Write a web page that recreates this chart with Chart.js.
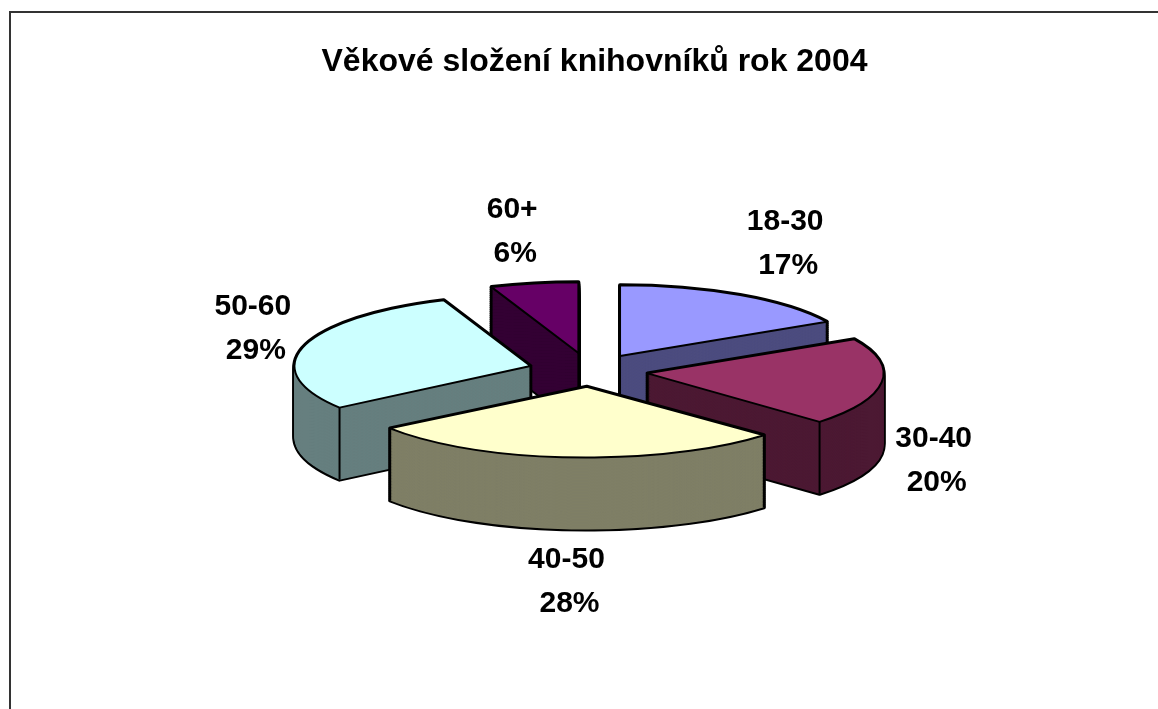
<!DOCTYPE html>
<html lang="cs">
<head>
<meta charset="utf-8">
<title>Věkové složení knihovníků rok 2004</title>
<script src="https://cdn.jsdelivr.net/npm/chart.js@4/dist/chart.umd.min.js"></script>
<style>
html,body{margin:0;padding:0;background:#fff;overflow:hidden}
#wrap{position:relative;width:1158px;height:709px}
</style>
</head>
<body>
<div id="wrap"><canvas id="c" width="1158" height="709"></canvas></div>
<script>
const chartTitle = 'Věkové složení knihovníků rok 2004';
const categories = ['18-30', '30-40', '40-50', '50-60', '60+'];
const shareValues = [17, 20, 28, 29, 6];
const percentLabels = ['17%', '20%', '28%', '29%', '6%'];
const topColors = ['#9999FF', '#993366', '#FFFFCC', '#CCFFFF', '#660066'];
const sideColors = ['#4C4C7F', '#4C1933', '#7F7F66', '#667F7F', '#330033'];

const PIE_RADIUS = 236, TILT = 0.3, DEPTH = 72, PIE_SHIFT_X = -4.5;
const EXPLODE = [59, 58, 52, 62, 62];
const WIDEN = [1, 1, 1.03, 1, 1];
const PAINT_ORDER = [4, 0, 3, 1, 2];
const LABEL_SHIFT = [[45, -73], [52, 56], [-5, 102], [-51, -40], [-22, -74]];
const LABEL_FONT = 'bold 30px "Liberation Sans", Arial, sans-serif';

const pie3d = {
  id: 'pie3d',
  beforeDraw(chart) {
    const ctx = chart.ctx;
    ctx.save();
    ctx.fillStyle = '#fff';
    ctx.fillRect(0, 0, chart.width, chart.height);
    ctx.strokeStyle = '#333';
    ctx.lineWidth = 2;
    ctx.beginPath();
    ctx.moveTo(10, chart.height + 2);
    ctx.lineTo(10, 12);
    ctx.lineTo(chart.width + 2, 12);
    ctx.stroke();
    ctx.restore();
  },
  beforeDatasetsDraw(chart) {
    const ctx = chart.ctx;
    const arcs = chart.getDatasetMeta(0).data;
    const info = i => {
      const el = arcs[i];
      const p = el.getProps(['x', 'y', 'startAngle', 'endAngle', 'outerRadius'], true);
      const mid = (p.startAngle + p.endAngle) / 2;
      return { el, i, ...p, mid, ex: Math.cos(mid) * EXPLODE[i] + PIE_SHIFT_X, ey: Math.sin(mid) * EXPLODE[i] };
    };
    const place = (s, h) => {
      ctx.translate(s.x + s.ex, s.y + h);
      ctx.scale(WIDEN[s.i], TILT);
      ctx.translate(-s.x, -s.y + s.ey);
    };
    const wedgePath = (s, h) => {
      ctx.save();
      place(s, h);
      ctx.beginPath();
      ctx.moveTo(s.x, s.y);
      ctx.arc(s.x, s.y, s.outerRadius, s.startAngle, s.endAngle);
      ctx.closePath();
      ctx.restore();
    };
    const fillArc = (s, color, h) => {
      const orig = s.el.options;
      s.el.options = { ...orig, backgroundColor: color, borderWidth: 0 };
      ctx.save();
      place(s, h);
      s.el.draw(ctx);
      ctx.restore();
      s.el.options = orig;
    };
    const pt = (s, ang, r) => [
      s.x + s.ex + Math.cos(ang) * r * WIDEN[s.i],
      s.y + (s.ey + Math.sin(ang) * r) * TILT
    ];
    const vertical = (q) => {
      ctx.beginPath();
      ctx.moveTo(q[0], q[1]);
      ctx.lineTo(q[0], q[1] + DEPTH);
      ctx.stroke();
    };
    // a face is visible when its outward normal points to the viewer (screen down)
    const faces = n => Math.sin(n) > 0;

    ctx.save();
    ctx.strokeStyle = '#000';
    ctx.lineJoin = 'round';
    for (const i of PAINT_ORDER) {
      const s = info(i);
      ctx.lineWidth = 4;
      for (let h = DEPTH; h >= 0; h -= 2) {
        wedgePath(s, h);
        ctx.stroke();
      }
      for (let h = DEPTH; h >= 0; h -= 0.75) fillArc(s, sideColors[i], h);
      ctx.lineWidth = 2;
      const startCut = faces(s.startAngle - Math.PI / 2);
      const endCut = faces(s.endAngle + Math.PI / 2);
      if (startCut || faces(s.startAngle)) vertical(pt(s, s.startAngle, s.outerRadius));
      if (endCut || faces(s.endAngle)) vertical(pt(s, s.endAngle, s.outerRadius));
      if (startCut || endCut) vertical(pt(s, 0, 0));
      fillArc(s, topColors[i], 0);
      wedgePath(s, 0);
      ctx.stroke();
    }
    ctx.restore();

    ctx.save();
    ctx.fillStyle = '#000';
    ctx.font = LABEL_FONT;
    ctx.textAlign = 'center';
    ctx.textBaseline = 'middle';
    categories.forEach((name, i) => {
      const s = info(i);
      const a = pt(s, s.mid, s.outerRadius);
      const x = a[0] + LABEL_SHIFT[i][0], y = a[1] + LABEL_SHIFT[i][1];
      ctx.fillText(name, x, y);
      ctx.fillText(percentLabels[i], x + 3, y + 44);
    });
    ctx.restore();
    return false;
  }
};

new Chart(document.getElementById('c'), {
  type: 'pie',
  data: {
    labels: categories,
    datasets: [{
      data: shareValues,
      backgroundColor: topColors,
      borderWidth: 0,
      radius: PIE_RADIUS
    }]
  },
  options: {
    responsive: false,
    animation: false,
    rotation: 0,
    layout: { padding: { left: 31, right: 0, top: 43, bottom: 48 } },
    plugins: {
      legend: { display: false },
      tooltip: { enabled: false },
      title: {
        display: true,
        text: chartTitle,
        color: '#000',
        font: { family: '"Liberation Sans", Arial, sans-serif', size: 32, weight: 'bold' },
        padding: { top: 0, bottom: 0 }
      }
    }
  },
  plugins: [pie3d]
});
</script>
</body>
</html>
